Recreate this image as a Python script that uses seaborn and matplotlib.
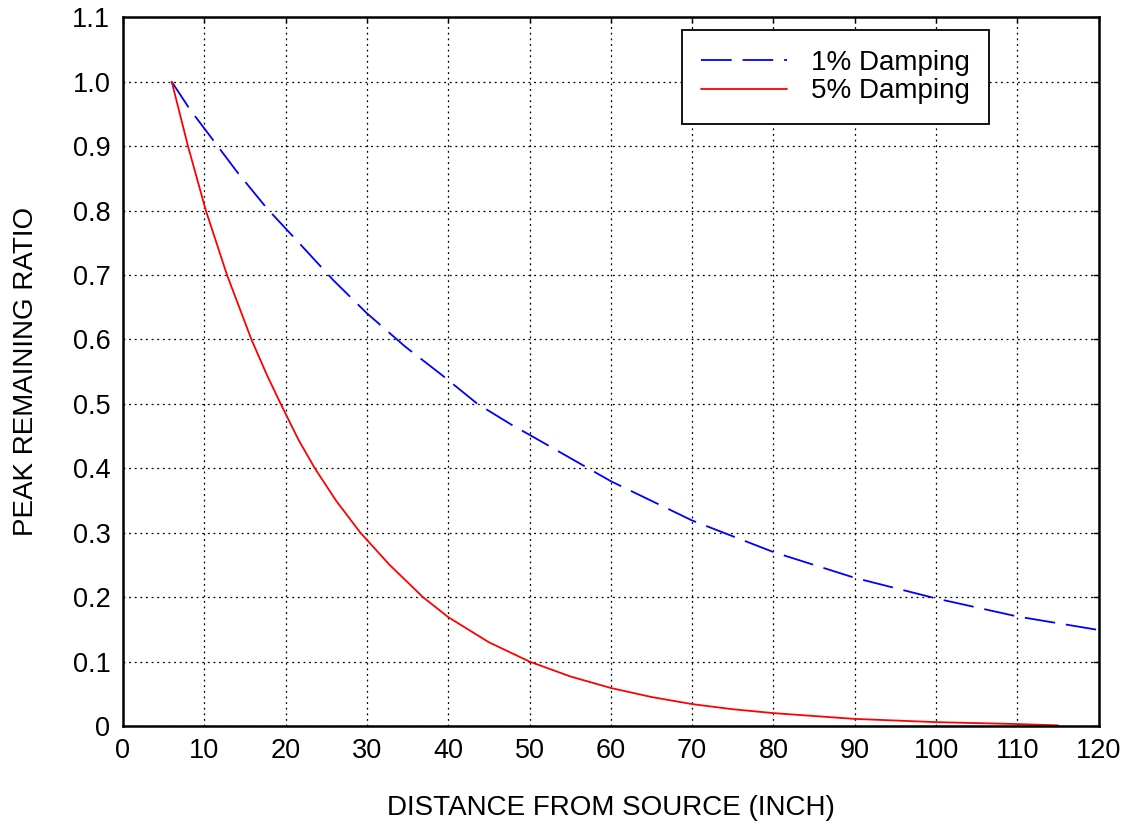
import matplotlib
matplotlib.use("Agg")
import matplotlib.pyplot as plt
import seaborn as sns
import pandas as pd

# Peak remaining ratio vs. distance from source, two damping levels
dist_1pct = [6, 8.24, 10.7, 13.98, 17.67, 21.35, 25.87, 29.97, 34.7, 39.2, 43.6,
             48.0, 50, 60, 70, 80, 90, 100, 110, 120]
ratio_1pct = [1.0, 0.957, 0.916, 0.861, 0.804, 0.754, 0.692, 0.641, 0.589, 0.545,
              0.500, 0.466, 0.452, 0.380, 0.319, 0.270, 0.230, 0.198, 0.170, 0.149]

dist_5pct = [6, 8.0, 10.2, 12.8, 15.8, 17.7, 19.4, 21.6, 23.6, 26.2, 29.2, 32.8,
             36.9, 40, 45, 50, 55, 60, 65, 70, 75, 80, 90, 100, 110, 115]
ratio_5pct = [1.0, 0.90, 0.80, 0.70, 0.60, 0.545, 0.50, 0.444, 0.40, 0.350, 0.30,
              0.25, 0.20, 0.169, 0.130, 0.100, 0.077, 0.059, 0.045, 0.034, 0.026,
              0.020, 0.011, 0.006, 0.003, 0.001]

labels = ["1% Damping", "5% Damping"]
x_ticks = list(range(0, 121, 10))
y_ticks = [0, 0.1, 0.2, 0.3, 0.4, 0.5, 0.6, 0.7, 0.8, 0.9, 1.0, 1.1]
y_ticklabels = ["0", "0.1", "0.2", "0.3", "0.4", "0.5", "0.6", "0.7", "0.8", "0.9", "1.0", "1.1"]

df = pd.concat([
    pd.DataFrame({"dist": dist_1pct, "ratio": ratio_1pct, "case": labels[0]}),
    pd.DataFrame({"dist": dist_5pct, "ratio": ratio_5pct, "case": labels[1]}),
], ignore_index=True)

sns.set_theme(style="white")
plt.rcParams["font.family"] = ["Liberation Sans", "DejaVu Sans"]
plt.rcParams["text.color"] = "black"
plt.rcParams["axes.labelcolor"] = "black"
plt.rcParams["xtick.color"] = "black"
plt.rcParams["ytick.color"] = "black"

fig = plt.figure(figsize=(11.28, 8.25), dpi=100)
ax = fig.add_axes([0.109, 0.120, 0.865, 0.859])

sns.lineplot(data=df, x="dist", y="ratio", hue="case", style="case",
             palette={labels[0]: "#0000ff", labels[1]: "#ff0000"},
             dashes={labels[0]: (17, 6), labels[1]: ""},
             linewidth=1.3, sort=False, estimator=None, ax=ax)

ax.set_xlim(0, 120)
ax.set_ylim(0, 1.1)
ax.set_xticks(x_ticks)
ax.set_yticks(y_ticks)
ax.set_yticklabels(y_ticklabels)
ax.grid(True, color="black", linestyle=(0, (1.5, 3)), linewidth=0.9)
ax.tick_params(axis="both", labelsize=19.5, labelcolor="black", direction="in",
               length=4, width=1, top=True, right=True, pad=9)
for side in ax.spines.values():
    side.set_visible(True)
    side.set_color("black")
    side.set_linewidth(1.8)

ax.set_xlabel("DISTANCE FROM SOURCE (INCH)", fontsize=20, labelpad=22)
ax.set_ylabel("PEAK REMAINING RATIO", fontsize=20, labelpad=24)

leg = ax.legend(loc="upper right", bbox_to_anchor=(0.888, 0.982), fontsize=20,
                frameon=True, fancybox=False, edgecolor="black", framealpha=1,
                handlelength=3.1, handletextpad=0.85, borderpad=0.7,
                labelspacing=0.1, borderaxespad=0.0)
leg.get_frame().set_linewidth(1.3)
leg.set_title(None)

fig.savefig("out.png", dpi=100)
